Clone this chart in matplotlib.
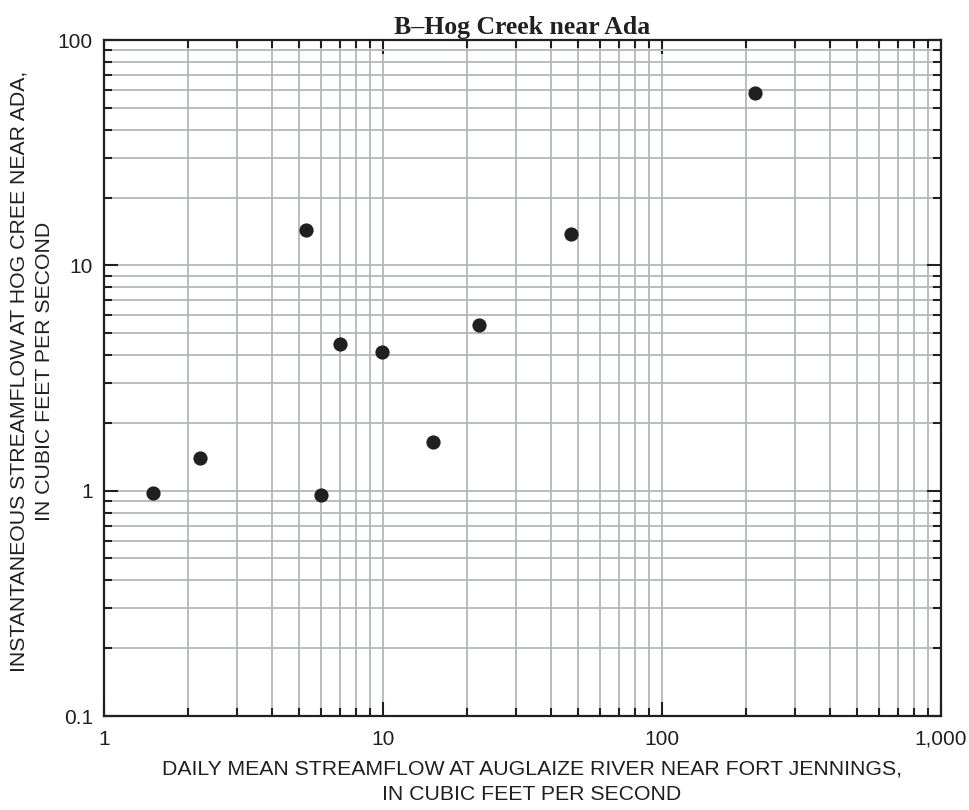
import matplotlib
matplotlib.use('Agg')
import matplotlib.pyplot as plt
from matplotlib.ticker import FixedLocator, FixedFormatter, LogLocator, NullFormatter

# Data
auglaize_flow = [1.5, 2.21, 5.3, 5.99, 7.01, 9.92, 15.1, 22.1, 47.2, 215]
hog_creek_flow = [0.976, 1.40, 14.3, 0.956, 4.47, 4.12, 1.64, 5.43, 13.8, 58.2]

x_ticks = [1, 10, 100, 1000]
x_tick_labels = ['1', '10', '100', '1,000']
y_ticks = [0.1, 1, 10, 100]
y_tick_labels = ['0.1', '1', '10', '100']

ink = '#231f20'
grid_gray = '#b3b7bb'

plt.rcParams['font.family'] = ['Liberation Sans Narrow', 'Liberation Sans', 'DejaVu Sans']

fig = plt.figure(figsize=(9.7, 8.1), dpi=100)
ax = fig.add_axes([104 / 970, 94 / 810, 837 / 970, 676 / 810])

ax.set_xscale('log')
ax.set_yscale('log')
ax.set_xlim(1, 1000)
ax.set_ylim(0.1, 100)

ax.grid(True, which='both', color=grid_gray, linewidth=1.3, zorder=0)
ax.set_axisbelow(True)

ax.scatter(auglaize_flow, hog_creek_flow, s=105, color=ink, zorder=3, linewidths=0)

ax.xaxis.set_major_locator(FixedLocator(x_ticks))
ax.xaxis.set_major_formatter(FixedFormatter(x_tick_labels))
ax.yaxis.set_major_locator(FixedLocator(y_ticks))
ax.yaxis.set_major_formatter(FixedFormatter(y_tick_labels))
ax.xaxis.set_minor_locator(LogLocator(base=10, subs=range(2, 10)))
ax.yaxis.set_minor_locator(LogLocator(base=10, subs=range(2, 10)))
ax.xaxis.set_minor_formatter(NullFormatter())
ax.yaxis.set_minor_formatter(NullFormatter())

ax.tick_params(which='both', direction='in', top=True, right=True, color=ink,
               width=1.5, labelsize=15, labelcolor=ink)
ax.tick_params(which='major', length=10)
ax.tick_params(which='minor', length=5.5)
ax.tick_params(axis='x', which='major', pad=10)
ax.tick_params(axis='y', which='major', pad=8)

for sp in ax.spines.values():
    sp.set_color(ink)
    sp.set_linewidth(1.6)

ax.set_title('B\u2013Hog Creek near Ada', fontfamily='Liberation Serif', fontweight='bold',
             fontsize=18.5, color=ink, pad=4)
ax.set_xlabel('DAILY MEAN STREAMFLOW AT AUGLAIZE RIVER NEAR FORT JENNINGS,\nIN CUBIC FEET PER SECOND',
              fontsize=15.3, color=ink, linespacing=1.42)
ax.set_ylabel('INSTANTANEOUS STREAMFLOW AT HOG CREE NEAR ADA,\nIN CUBIC FEET PER SECOND',
              fontsize=15.3, color=ink, linespacing=1.42)
ax.xaxis.set_label_coords(0.511, -0.064)
ax.yaxis.set_label_coords(-0.06, 0.51)

fig.savefig('out.png', dpi=100)
